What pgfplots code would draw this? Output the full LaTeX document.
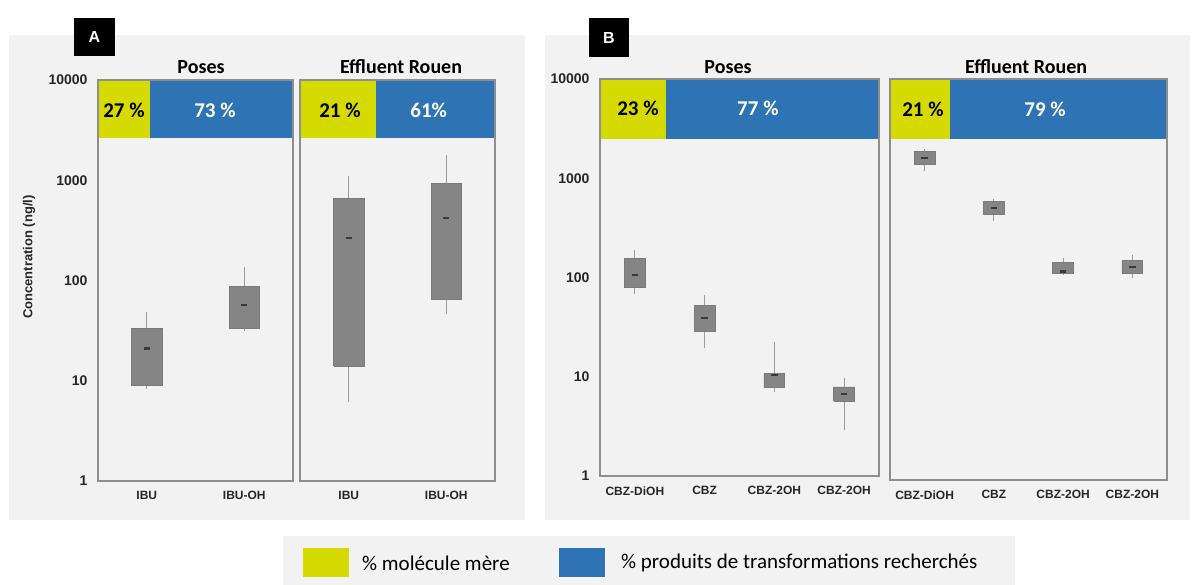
\documentclass[border=0pt]{standalone}
\usepackage{fontspec}
\setmainfont{Liberation Sans}
\newfontfamily\calibri{Carlito}
\usepackage{pgfplots}
\pgfplotsset{compat=1.18}
\definecolor{bggray}{HTML}{F2F2F2}
\definecolor{framecol}{HTML}{8E8E8E}
\definecolor{yel}{HTML}{D5DA00}
\definecolor{blu}{HTML}{2E74B5}
\definecolor{boxfill}{HTML}{858585}
\definecolor{boxedge}{HTML}{7A7A7A}
\definecolor{whiskcol}{HTML}{9A9A9A}
\definecolor{medcol}{HTML}{3A3A3A}
\pgfplotsset{
  /pgfplots/mypanel/.style={
    scale only axis,
    axis line style={draw=framecol, line width=1.2pt},
    axis background/.style={fill=bggray},
    tick style={draw=none},
    axis on top,
    xticklabel style={font=\bfseries\fontsize{12}{14}\selectfont, yshift=-7pt, text=black!85},
    yticklabel style={font=\bfseries\fontsize{14}{16}\selectfont, xshift=-7pt, text=black!85},
    anchor=south west,
  },
  /pgfplots/wh/.style={draw=whiskcol, line width=1pt, mark=none},
  /pgfplots/bxs/.style={draw=boxedge, fill=boxfill, line width=0.7pt, mark=none},
  /pgfplots/mymed/.style={only marks, mark=-, mark size=3.2pt, mark options={line width=2.2pt, draw=medcol}},
}
\tikzset{
  pctk/.style={font=\calibri\bfseries\fontsize{21}{24}\selectfont, text=black},
  pctw/.style={font=\calibri\bfseries\fontsize{21}{24}\selectfont, text=white},
  ttl/.style={font=\calibri\bfseries\fontsize{20}{24}\selectfont, text=black},
}
\begin{document}
\begin{tikzpicture}
% panel backgrounds
\fill[bggray] (9pt,-35pt) rectangle (525pt,-520pt);
\fill[bggray] (545pt,-35pt) rectangle (1190pt,-520pt);
\fill[bggray] (283pt,-536pt) rectangle (1015pt,-585pt);
% panel letters
\fill[black] (74pt,-18pt) rectangle (115pt,-56pt);
\node[white, font=\bfseries\fontsize{16}{18}\selectfont] at (94.5pt,-37pt) {A};
\fill[black] (589pt,-18pt) rectangle (629pt,-57pt);
\node[white, font=\bfseries\fontsize{16}{18}\selectfont] at (609pt,-37.5pt) {B};

% ---------------- A : Poses
\begin{axis}[mypanel, ymode=log, ymin=1, ymax=10000, yminorticks=false,
  ytick={1,10,100,1000,10000}, yticklabels={1,10,100,1000,10000},
  at={(98pt,-481pt)}, width=195pt, height=401pt,
  xmin=0.5, xmax=2.5, xtick={1,2}, xticklabels={IBU,IBU-OH}]
\fill[yel] (rel axis cs:0,0.855) rectangle (rel axis cs:0.267,1);
\fill[blu] (rel axis cs:0.267,0.855) rectangle (rel axis cs:1,1);
\node[pctk] at (rel axis cs:0.133,0.925) {27 \%};
\node[pctw] at (rel axis cs:0.60,0.925) {73 \%};
% IBU
\addplot[wh] coordinates {(1,8.3) (1,49)};
\addplot[bxs] coordinates {(0.845,8.9) (1.155,8.9) (1.155,33) (0.845,33) (0.845,8.9)};
% IBU-OH
\addplot[wh] coordinates {(2,31) (2,135)};
\addplot[bxs] coordinates {(1.845,33) (2.155,33) (2.155,87) (1.845,87) (1.845,33)};
\addplot[mymed] coordinates {(1,21) (2,57)};
\end{axis}

% ---------------- A : Effluent Rouen
\begin{axis}[mypanel, ymode=log, ymin=1, ymax=10000, yminorticks=false,
  ytick={1,10,100,1000,10000}, yticklabels={,,,,},
  at={(300pt,-481pt)}, width=195pt, height=401pt,
  xmin=0.5, xmax=2.5, xtick={1,2}, xticklabels={IBU,IBU-OH}]
\fill[yel] (rel axis cs:0,0.855) rectangle (rel axis cs:0.39,1);
\fill[blu] (rel axis cs:0.39,0.855) rectangle (rel axis cs:1,1);
\node[pctk] at (rel axis cs:0.205,0.925) {21 \%};
\node[pctw] at (rel axis cs:0.66,0.925) {61\%};
% IBU
\addplot[wh] coordinates {(1,6.2) (1,1100)};
\addplot[bxs] coordinates {(0.845,14) (1.155,14) (1.155,660) (0.845,660) (0.845,14)};
% IBU-OH
\addplot[wh] coordinates {(2,46) (2,1780)};
\addplot[bxs] coordinates {(1.845,65) (2.155,65) (2.155,930) (1.845,930) (1.845,65)};
\addplot[mymed] coordinates {(1,263) (2,417)};
\end{axis}

% ---------------- B : Poses
\begin{axis}[mypanel, ymode=log, ymin=1, ymax=10000, yminorticks=false,
  ytick={1,10,100,1000,10000}, yticklabels={1,10,100,1000,10000},
  at={(600pt,-476pt)}, width=279pt, height=397pt,
  xmin=0.5, xmax=4.5, xtick={1,2,3,4}, xticklabels={CBZ-DiOH,CBZ,CBZ-2OH,CBZ-2OH}]
\fill[yel] (rel axis cs:0,0.849) rectangle (rel axis cs:0.237,1);
\fill[blu] (rel axis cs:0.237,0.849) rectangle (rel axis cs:1,1);
\node[pctk] at (rel axis cs:0.136,0.925) {23 \%};
\node[pctw] at (rel axis cs:0.566,0.925) {77 \%};
% CBZ-DiOH
\addplot[wh] coordinates {(1,68) (1,190)};
\addplot[bxs] coordinates {(0.85,80) (1.15,80) (1.15,157) (0.85,157) (0.85,80)};
% CBZ
\addplot[wh] coordinates {(2,19.6) (2,66)};
\addplot[bxs] coordinates {(1.85,29) (2.15,29) (2.15,52) (1.85,52) (1.85,29)};
% CBZ-2OH
\addplot[wh] coordinates {(3,7.1) (3,22.5)};
\addplot[bxs] coordinates {(2.85,7.8) (3.15,7.8) (3.15,10.7) (2.85,10.7) (2.85,7.8)};
% CBZ-2OH
\addplot[wh] coordinates {(4,2.9) (4,9.8)};
\addplot[bxs] coordinates {(3.85,5.7) (4.15,5.7) (4.15,7.9) (3.85,7.9) (3.85,5.7)};
\addplot[mymed] coordinates {(1,106) (2,39) (3,10.5) (4,6.7)};
\end{axis}

% ---------------- B : Effluent Rouen
\begin{axis}[mypanel, ymode=log, ymin=1, ymax=10000, yminorticks=false,
  ytick={1,10,100,1000,10000}, yticklabels={,,,,},
  at={(890pt,-480pt)}, width=277pt, height=401pt,
  xmin=0.5, xmax=4.5, xtick={1,2,3,4}, xticklabels={CBZ-DiOH,CBZ,CBZ-2OH,CBZ-2OH}]
\fill[yel] (rel axis cs:0,0.850) rectangle (rel axis cs:0.217,1);
\fill[blu] (rel axis cs:0.217,0.850) rectangle (rel axis cs:1,1);
\node[pctk] at (rel axis cs:0.119,0.925) {21 \%};
\node[pctw] at (rel axis cs:0.56,0.925) {79 \%};
% CBZ-DiOH
\addplot[wh] coordinates {(1,1210) (1,2000)};
\addplot[bxs] coordinates {(0.85,1420) (1.15,1420) (1.15,1910) (0.85,1910) (0.85,1420)};
% CBZ
\addplot[wh] coordinates {(2,383) (2,633)};
\addplot[bxs] coordinates {(1.85,450) (2.15,450) (2.15,605) (1.85,605) (1.85,450)};
% CBZ-2OH
\addplot[wh] coordinates {(3,112) (3,165)};
\addplot[bxs] coordinates {(2.85,114) (3.15,114) (3.15,147) (2.85,147) (2.85,114)};
% CBZ-2OH
\addplot[wh] coordinates {(4,104) (4,177)};
\addplot[bxs] coordinates {(3.85,114) (4.15,114) (4.15,154) (3.85,154) (3.85,114)};
\addplot[mymed] coordinates {(1,1625) (2,517) (3,120) (4,134)};
\end{axis}

% titles
\node[ttl] at (201pt,-67pt) {Poses};
\node[ttl] at (401pt,-67pt) {Effluent Rouen};
\node[ttl] at (728pt,-67pt) {Poses};
\node[ttl] at (1026pt,-67pt) {Effluent Rouen};
% y label
\node[rotate=90, font=\bfseries\fontsize{13}{15}\selectfont, text=black!85] at (29pt,-257pt) {Concentration (ng/l)};
% legend
\fill[yel] (303pt,-548pt) rectangle (349pt,-577pt);
\fill[blu] (559pt,-548pt) rectangle (605pt,-577pt);
\node[anchor=west, inner sep=0pt, font=\calibri\fontsize{21}{24}\selectfont] at (362pt,-563pt) {\% molécule mère};
\node[anchor=west, inner sep=0pt, font=\calibri\fontsize{21}{24}\selectfont] at (621pt,-563pt) {\% produits de transformations recherchés};

\pgfresetboundingbox
\path (0pt,0pt) rectangle (1192pt,-585pt);
\end{tikzpicture}
\end{document}
